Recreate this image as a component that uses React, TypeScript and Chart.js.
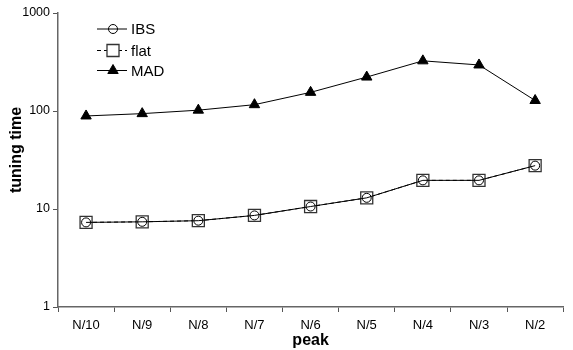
import React, { useEffect, useRef } from "react";
import { Chart, registerables } from "chart.js";

Chart.register(...registerables);

const categories = ["N/10", "N/9", "N/8", "N/7", "N/6", "N/5", "N/4", "N/3", "N/2"];
const ibsValues = [7.3, 7.4, 7.6, 8.6, 10.6, 13.0, 19.6, 19.6, 27.7];
const flatValues = [7.3, 7.4, 7.6, 8.6, 10.6, 13.0, 19.6, 19.6, 27.7];
const madValues = [89, 94, 102, 116, 155, 222, 325, 295, 128];
const yTicks = [1, 10, 100, 1000];
const yTitle = "tuning time";
const xTitle = "peak";

const FONT = "'Liberation Sans', Arial, sans-serif";

const legendPlugin = {
  id: "insideLegend",
  afterDraw(chart: any) {
    const { ctx, chartArea } = chart;
    const x0 = chartArea.left + 39;
    const x1 = chartArea.left + 69;
    const xm = chartArea.left + 55;
    const rows = [chartArea.top + 16, chartArea.top + 37.5, chartArea.top + 57.5];
    const datasets = chart.data.datasets;
    ctx.save();
    datasets.forEach((ds: any, i: number) => {
      const y = rows[i];
      ctx.beginPath();
      ctx.strokeStyle = "#000";
      ctx.lineWidth = 1;
      ctx.setLineDash(ds.borderDash || []);
      ctx.moveTo(x0, y);
      ctx.lineTo(x1, y);
      ctx.stroke();
      ctx.setLineDash([]);
      ctx.fillStyle = ds.pointBackgroundColor;
      ctx.strokeStyle = ds.pointBorderColor;
      ctx.lineWidth = ds.pointBorderWidth;
      ctx.beginPath();
      if (ds.pointStyle === "circle") {
        ctx.arc(xm, y, ds.pointRadius, 0, Math.PI * 2);
        ctx.fill();
        ctx.stroke();
      } else if (ds.pointStyle === "rect") {
        const s = Math.SQRT1_2 * ds.pointRadius;
        ctx.rect(xm - s, y - s, 2 * s, 2 * s);
        ctx.fill();
        ctx.stroke();
      } else {
        const r = ds.pointRadius;
        ctx.moveTo(xm, y - r);
        ctx.lineTo(xm + r * Math.sin(Math.PI / 3), y + r / 2);
        ctx.lineTo(xm - r * Math.sin(Math.PI / 3), y + r / 2);
        ctx.closePath();
        ctx.fill();
        ctx.stroke();
      }
      ctx.fillStyle = "#000";
      ctx.font = `15px ${FONT}`;
      ctx.textBaseline = "middle";
      ctx.textAlign = "left";
      ctx.fillText(ds.label, x1 + 4, y + 1);
    });
    // y axis title
    ctx.save();
    ctx.translate(17, chartArea.top + 137);
    ctx.rotate(-Math.PI / 2);
    ctx.font = `bold 16px ${FONT}`;
    ctx.textAlign = "center";
    ctx.textBaseline = "middle";
    ctx.fillStyle = "#000";
    ctx.fillText(yTitle, 0, 0);
    ctx.restore();
    ctx.restore();
  },
};

export default function App() {
  const ref = useRef<HTMLCanvasElement | null>(null);
  useEffect(() => {
    if (!ref.current) return;
    const chart = new Chart(ref.current, {
      type: "line",
      data: {
        labels: categories,
        datasets: [
          {
            label: "IBS",
            data: ibsValues,
            borderColor: "#000",
            borderWidth: 1,
            pointStyle: "circle",
            pointRadius: 4.5,
            pointBackgroundColor: "rgba(255,255,255,0)",
            pointBorderColor: "#000",
            pointBorderWidth: 1,
            tension: 0,
          },
          {
            label: "flat",
            data: flatValues,
            borderColor: "#000",
            borderWidth: 1,
            borderDash: [4, 3],
            pointStyle: "rect",
            pointRadius: 8.5,
            pointBackgroundColor: "#fff",
            pointBorderColor: "#333",
            pointBorderWidth: 1.3,
            tension: 0,
          },
          {
            label: "MAD",
            data: madValues,
            borderColor: "#000",
            borderWidth: 1,
            pointStyle: "triangle",
            pointRadius: 6,
            pointBackgroundColor: "#000",
            pointBorderColor: "#000",
            pointBorderWidth: 1,
            tension: 0,
          },
        ],
      },
      options: {
        animation: false,
        responsive: false,
        maintainAspectRatio: false,
        layout: { padding: { top: 13, right: 4, bottom: 0, left: 0 } },
        plugins: {
          legend: { display: false },
          tooltip: { enabled: false },
        },
        scales: {
          x: {
            type: "category",
            offset: true,
            grid: {
              display: true,
              offset: true,
              drawOnChartArea: false,
              drawTicks: true,
              tickLength: 5,
              tickColor: "#555",
            },
            border: { display: true, color: "#666", width: 1.5 },
            ticks: { color: "#000", font: { family: FONT, size: 13 }, padding: 6, maxRotation: 0 },
            title: {
              display: true,
              text: xTitle,
              color: "#000",
              font: { family: FONT, size: 16, weight: "bold" },
              padding: { top: 0, bottom: 0 },
            },
            afterFit(scale: any) {
              scale.height = 43;
            },
          },
          y: {
            type: "logarithmic",
            min: 1,
            max: 1000,
            afterBuildTicks(scale: any) {
              scale.ticks = yTicks.map((v) => ({ value: v }));
            },
            grid: {
              display: true,
              drawOnChartArea: false,
              drawTicks: true,
              tickLength: 5,
              tickColor: "#555",
            },
            border: { display: true, color: "#666", width: 1.5 },
            ticks: {
              color: "#000",
              font: { family: FONT, size: 12.5 },
              padding: 3,
              callback: (v: any) => String(v),
            },
            title: { display: false },
            afterFit(scale: any) {
              scale.width = 58;
            },
          },
        },
      },
      plugins: [legendPlugin],
    });
    return () => chart.destroy();
  }, []);
  return (
    <div style={{ position: "fixed", left: 0, top: 0, width: 573, height: 350, background: "#fff" }}>
      <canvas ref={ref} width={573} height={350} style={{ width: 573, height: 350 }} />
    </div>
  );
}
